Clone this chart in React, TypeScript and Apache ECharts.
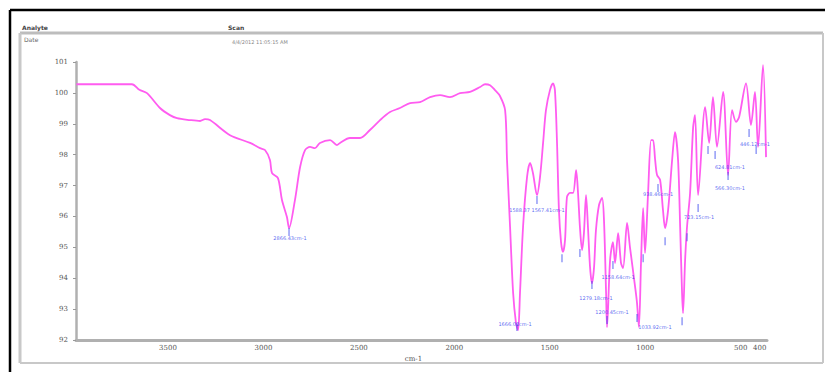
import React, { useEffect, useRef } from "react";
import * as echarts from "echarts";

// Spectrum (wavenumber cm-1, transmittance)
const wavenumbers = [
  3980, 3856, 3689, 3650, 3610, 3542, 3490, 3453, 3385, 3332, 3306, 3280, 3175, 3070, 3018, 2992,
  2966, 2955, 2924, 2903, 2877, 2866, 2835, 2808, 2782, 2756, 2730, 2704, 2651, 2615, 2599, 2547,
  2494, 2442, 2389, 2337, 2285, 2232, 2180, 2127, 2075, 2023, 1970, 1918, 1865, 1839, 1813, 1787,
  1761, 1734, 1724, 1708, 1692, 1677, 1666, 1656, 1640, 1619, 1603, 1588, 1567, 1551, 1535, 1520,
  1499, 1483, 1473, 1462, 1452, 1441, 1431, 1420, 1410, 1394, 1378, 1362, 1352, 1342, 1331, 1321,
  1310, 1300, 1289, 1279, 1268, 1258, 1242, 1226, 1216, 1205, 1200, 1184, 1169, 1158, 1142, 1127,
  1116, 1095, 1080, 1053, 1043, 1033, 1022, 1011, 1001, 985, 969, 959, 948, 938, 922, 907,
  896, 880, 859, 844, 828, 817, 807, 802, 791, 781, 765, 749, 739, 723, 686, 665,
  645, 624, 592, 566, 545, 524, 508, 472, 446, 425, 409, 383, 367,
];
const transmittance = [
  100.28, 100.28, 100.28, 100.1, 99.99, 99.51, 99.28, 99.18, 99.12, 99.09, 99.15, 99.12, 98.63, 98.38, 98.21, 98.15,
  97.83, 97.4, 97.24, 96.53, 95.98, 95.62, 96.53, 97.6, 98.15, 98.25, 98.21, 98.38, 98.47, 98.31, 98.38, 98.54,
  98.54, 98.8, 99.12, 99.38, 99.51, 99.67, 99.7, 99.86, 99.93, 99.86, 99.99, 100.03, 100.19, 100.28, 100.25, 100.09,
  99.9, 99.44, 97.83, 95.66, 93.52, 92.55, 92.32, 93.52, 95.66, 97.28, 97.73, 97.4, 96.69, 97.28, 98.38, 99.44,
  100.09, 100.31, 100.09, 98.38, 96.21, 95.17, 94.85, 95.24, 96.63, 96.76, 96.76, 97.5, 96.76, 95.66, 94.91, 95.46,
  96.69, 95.66, 94.36, 93.84, 94.36, 95.56, 96.37, 96.6, 95.88, 93.52, 92.42, 94.59, 95.17, 94.49, 95.46, 94.5,
  94.33, 95.79, 95.01, 93.72, 93.2, 92.42, 94.5, 96.27, 94.82, 96.76, 98.47, 98.47, 97.83, 97.34, 97.18, 96.21,
  95.62, 96.21, 97.83, 98.73, 97.83, 95.66, 93.52, 92.87, 94.59, 95.66, 96.76, 98.89, 99.28, 96.69, 99.54, 98.38,
  99.86, 98.25, 100.03, 97.34, 99.44, 99.06, 99.22, 100.31, 98.96, 100.03, 98.25, 100.9, 97.92,
];

// Peak tick marks
const tickWn = [2866, 1672, 1567, 1436, 1342, 1279, 1200, 1169, 1043, 1011, 896, 933, 807, 781, 723, 671, 634, 566, 456, 419];
const tickT = [95.5, 92.42, 96.53, 94.65, 94.82, 93.78, 92.65, 94.43, 92.71, 94.65, 95.2, 96.92, 92.61, 95.33, 96.27, 98.15, 97.99, 97.31, 98.7, 98.15];

// Peak labels
const peakLabelWn = [2861, 1682, 1567, 1142, 1258, 1174, 949, 933, 718, 556, 556, 425];
const peakLabelT = [95.3, 92.52, 96.21, 94.04, 93.36, 92.91, 92.42, 96.72, 95.98, 97.6, 96.92, 98.34];
const peakLabelText = [
  "2866.43cm-1", "1666.02cm-1", "1588.37 1567.41cm-1", "1158.64cm-1", "1279.18cm-1", "1200.45cm-1",
  "1033.92cm-1", "938.46cm-1", "723.15cm-1", "624.81cm-1", "566.30cm-1", "446.12cm-1",
];

// Axis ticks
const xTickValues = [3500, 3000, 2500, 2000, 1500, 1000, 500, 400];
const yMin = 92;
const yMax = 101;

const headerLeft = ["Analyte", "Date"];
const headerRight = ["Scan", "4/4/2012 11:05:15 AM"];

export default function App() {
  const ref = useRef<HTMLDivElement>(null);
  useEffect(() => {
    if (!ref.current) return;
    const chart = echarts.init(ref.current, null, { renderer: "svg" });
    const spectrum = wavenumbers.map((w, i) => [w, transmittance[i]]);
    const ticks = tickWn.map((w, i) => [w, tickT[i]]);
    const labels = peakLabelWn.map((w, i) => ({ value: [w, peakLabelT[i]], name: peakLabelText[i] }));
    chart.setOption({
      animation: false,
      backgroundColor: "#ffffff",
      graphic: [
        { type: "line", shape: { x1: 10, y1: 10, x2: 825, y2: 10 }, style: { stroke: "#000", lineWidth: 2.5 } },
        { type: "line", shape: { x1: 10, y1: 10, x2: 10, y2: 372 }, style: { stroke: "#000", lineWidth: 2.5 } },
        { type: "line", shape: { x1: 20, y1: 33, x2: 823, y2: 33 }, style: { stroke: "#bdbdbd", lineWidth: 3 } },
        { type: "line", shape: { x1: 20, y1: 33, x2: 20, y2: 363 }, style: { stroke: "#c8c8c8", lineWidth: 3 } },
        { type: "line", shape: { x1: 823, y1: 33, x2: 823, y2: 363 }, style: { stroke: "#c8c8c8", lineWidth: 2 } },
        { type: "line", shape: { x1: 20, y1: 363, x2: 823, y2: 363 }, style: { stroke: "#c8c8c8", lineWidth: 2 } },
        { type: "text", x: 22, y: 24, style: { text: headerLeft[0], fontSize: 6, fontWeight: "bold", fill: "#444", fontFamily: "DejaVu Sans" } },
        { type: "text", x: 24, y: 36, style: { text: headerLeft[1], fontSize: 6, fill: "#666", fontFamily: "DejaVu Sans" } },
        { type: "text", x: 228, y: 24, style: { text: headerRight[0], fontSize: 6, fontWeight: "bold", fill: "#444", fontFamily: "DejaVu Sans" } },
        { type: "text", x: 232, y: 39, style: { text: headerRight[1], fontSize: 5, fill: "#888", fontFamily: "DejaVu Sans" } },
      ],
      grid: { left: 76, right: 58, top: 62, bottom: 32, containLabel: false, outerBoundsMode: "none" },
      xAxis: {
        type: "value",
        inverse: true,
        min: 362,
        max: 3982,
        name: "cm-1",
        nameLocation: "middle",
        nameGap: 14,
        nameTextStyle: { fontSize: 7, color: "#555", padding: [0, 16, 0, 0], fontFamily: "DejaVu Serif" },
        axisLine: { lineStyle: { color: "#b0b0b0", width: 3 } },
        axisTick: { show: false },
        splitLine: { show: false },
        axisLabel: {
          customValues: xTickValues,
          formatter: (v: number) => String(v),
          fontSize: 7,
          color: "#555",
          margin: 4,
          fontFamily: "DejaVu Serif",
        },
      },
      yAxis: {
        type: "value",
        min: yMin,
        max: yMax,
        interval: 1,
        axisLine: { show: true, lineStyle: { color: "#b0b0b0", width: 2.5 } },
        axisTick: { show: true, length: 3, lineStyle: { color: "#999" } },
        splitLine: { show: false },
        axisLabel: { fontSize: 7, color: "#555", margin: 8, fontFamily: "DejaVu Serif" },
      },
      series: [
        {
          type: "line",
          data: spectrum,
          showSymbol: false,
          smooth: 0.3,
          lineStyle: { color: "#ff5cf0", width: 1.8 },
          z: 2,
        },
        {
          type: "scatter",
          data: ticks,
          symbol: "rect",
          symbolSize: [1, 8],
          itemStyle: { color: "#3344ee" },
          z: 3,
        },
        {
          type: "scatter",
          data: labels,
          symbol: "circle",
          symbolSize: 1,
          itemStyle: { color: "rgba(0,0,0,0)" },
          label: {
            show: true,
            position: "inside",
            formatter: (p: any) => p.name,
            fontSize: 5,
            color: "#3344ee",
            fontFamily: "DejaVu Sans",
          },
          labelLayout: { hideOverlap: false },
          z: 4,
        },
      ],
    });
    return () => chart.dispose();
  }, []);
  return (
    <div
      ref={ref}
      style={{ position: "fixed", left: 0, top: 0, width: 825, height: 372 }}
    />
  );
}
